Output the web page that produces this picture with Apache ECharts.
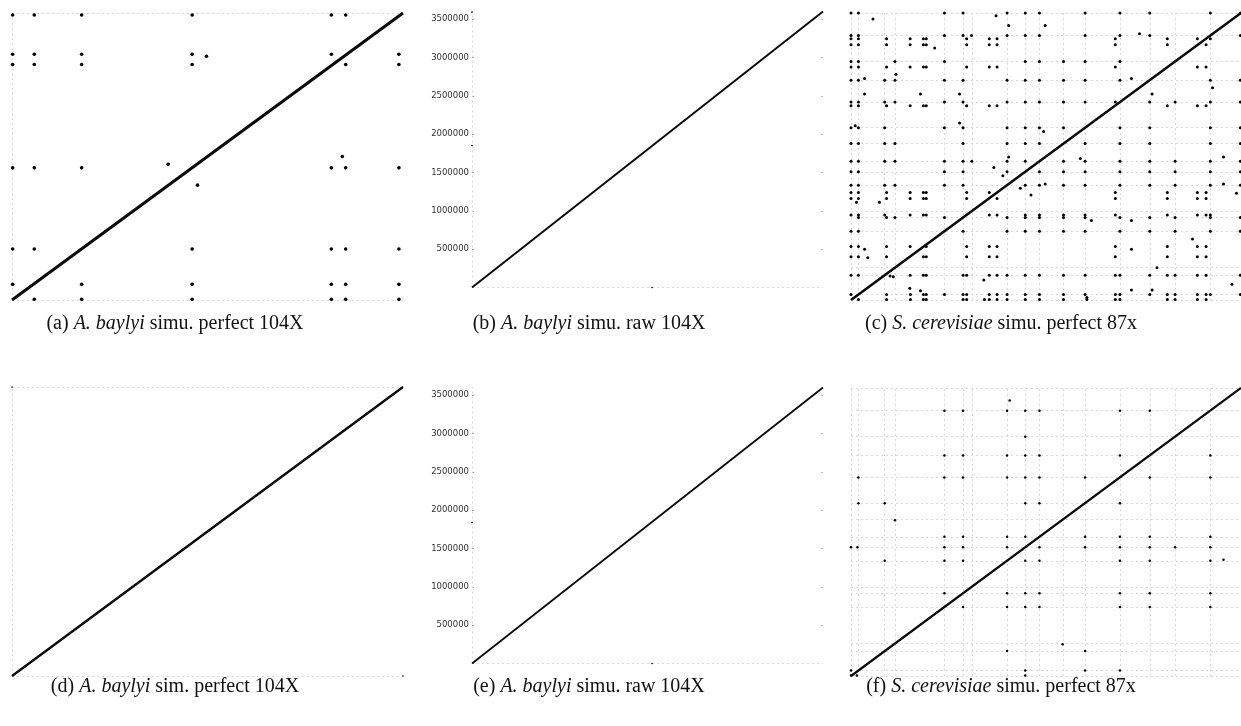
<!DOCTYPE html>
<html><head><meta charset="utf-8">
<script src="https://cdn.jsdelivr.net/npm/echarts@6/dist/echarts.min.js"></script>
<style>html,body{margin:0;padding:0;background:#fff}#c{width:1241px;height:726px}</style>
</head><body><div id="c"></div>
<script>
// ---------- A. baylyi (bp) ----------
const abLen = 3598621;
const abYTicks = [500000, 1000000, 1500000, 2000000, 2500000, 3000000, 3500000];
// panel (a): rows of repeat hits [y, [x...]]
const aRows = [
  [3574000, [6000, 205000, 641000, 1658000, 2939000, 3071000]],
  [3081000, [6000, 205000, 641000, 1658000, 2939000, 3561000]],
  [2952000, [6000, 205000, 641000, 1658000, 3071000, 3561000]],
  [1657000, [6000, 205000, 641000, 2939000, 3071000, 3561000]],
  [639000,  [6000, 205000, 1658000, 2939000, 3071000, 3561000]],
  [196000,  [6000, 641000, 1658000, 2939000, 3071000, 3561000]],
  [8000,    [205000, 641000, 1658000, 2939000, 3071000, 3561000]]
];
const aStray = [[1790000, 3056000], [1437000, 1703000], [1707000, 1440000], [3040000, 1800000]];
const bStray = [[0, 1851000], [1845000, 0], [0, 3590000]];
const dStray = [[0, 3598000], [3598000, 0]];
const eStray = [[0, 1839000], [1845000, 0]];

// ---------- S. cerevisiae (Mb) ----------
const scLen = 12.071;
const scBounds = [0.230, 1.043, 1.360, 2.892, 3.469, 3.739, 4.830, 5.393, 5.833, 6.578, 7.245, 8.323, 9.247, 10.031, 11.122];
const cRows = [
  [12.07, [0, 0.23, 2.892, 3.469, 4.83, 5.393, 5.833, 7.245, 8.323, 9.247, 11.122, 12.05]],
  [11.122, [0, 0.23, 2.892, 3.469, 4.83, 5.393, 5.833, 7.245, 8.323, 9.247, 12.05]],
  [10.99, [0, 0.23, 1.10, 1.83, 2.24, 2.33, 3.58, 4.28, 4.52, 8.18, 9.79, 10.72, 11.122]],
  [10.74, [0, 0.23, 1.10, 1.83, 2.24, 2.33, 3.58, 4.28, 4.52, 8.18, 9.79, 10.99]],
  [10.031, [0, 0.23, 1.36, 2.892, 5.393, 5.833, 6.578, 7.245, 8.323]],
  [9.80, [0, 0.23, 1.10, 1.83, 2.24, 2.33, 3.58, 4.28, 4.52, 8.18, 10.72, 10.99]],
  [9.247, [0, 0.23, 1.043, 1.36, 2.892, 3.469, 4.83, 5.393, 5.833, 6.578, 7.245, 8.323, 11.122, 12.05]],
  [8.323, [0, 0.23, 1.043, 1.36, 2.892, 3.469, 4.83, 5.393, 5.833, 6.578, 7.245, 8.18, 9.247, 10.031, 11.122, 12.05]],
  [8.17, [0, 0.23, 1.10, 1.83, 2.24, 2.33, 3.58, 4.28, 4.52, 9.79, 10.72, 10.99]],
  [7.245, [0, 0.23, 1.043, 2.892, 3.469, 4.83, 5.393, 5.833, 6.578, 8.323, 9.247, 11.122, 12.05]],
  [6.578, [0, 0.23, 1.043, 1.36, 3.469, 4.83, 5.393, 5.833, 7.245, 8.323, 9.247, 11.122, 12.05]],
  [5.833, [0, 0.23, 1.043, 1.36, 2.892, 3.469, 3.739, 4.83, 5.393, 6.578, 7.245, 8.323, 9.247, 10.031, 11.122, 12.05]],
  [5.393, [0, 0.23, 2.892, 3.469, 4.83, 5.833, 6.578, 7.245, 8.323, 9.247, 10.031, 11.122, 12.05]],
  [4.83, [0, 0.23, 1.043, 1.36, 2.892, 3.469, 5.393, 5.833, 6.578, 7.245, 8.323, 9.247, 10.031, 11.122, 12.05]],
  [4.52, [0, 0.23, 1.10, 1.83, 2.24, 2.33, 3.58, 4.28, 8.18, 9.79, 10.72, 10.99]],
  [4.27, [0, 0.23, 1.10, 1.83, 2.24, 2.33, 3.58, 4.52, 8.18, 9.79, 10.72, 10.99]],
  [3.57, [0, 0.23, 1.043, 1.83, 2.24, 2.33, 4.28, 4.52, 5.393, 5.833, 6.578, 7.245, 8.18, 9.79, 10.72, 10.99, 11.122]],
  [3.469, [0.23, 1.10, 1.36, 2.892, 4.83, 5.393, 5.833, 6.578, 7.245, 8.323, 9.247, 10.031, 11.122, 12.05]],
  [2.892, [0, 0.23, 3.469, 4.83, 5.393, 5.833, 6.578, 7.245, 8.323, 9.247, 10.031, 11.122, 12.05]],
  [2.25, [0, 0.23, 1.10, 1.83, 2.33, 3.58, 4.28, 4.52, 8.18, 9.79, 10.72, 10.99]],
  [1.82, [0, 0.23, 1.10, 2.24, 2.33, 3.58, 4.28, 4.52, 8.18, 9.79, 10.72, 10.99]],
  [1.043, [0, 0.23, 1.83, 2.24, 2.33, 3.469, 3.58, 4.28, 4.52, 4.83, 5.393, 5.833, 6.578, 7.245, 8.18, 8.323, 9.247, 9.79, 10.031, 10.72, 10.99, 12.05]],
  [0.23, [0, 1.10, 1.84, 2.24, 2.33, 2.892, 3.469, 3.58, 4.28, 4.52, 4.83, 5.393, 5.833, 6.578, 7.245, 8.18, 8.323, 9.247, 9.79, 10.031, 10.72, 10.99, 11.122, 12.05]],
  [0.02, [0.23, 1.10, 1.84, 2.24, 2.33, 3.469, 3.58, 4.13, 4.28, 4.52, 4.83, 5.393, 5.833, 6.578, 7.30, 8.18, 8.323, 9.79, 10.031, 10.72, 10.99]]
];
const cStray = [
  [0.68, 11.82], [4.49, 11.96], [4.88, 11.55], [6.01, 11.55], [3.73, 11.12], [8.93, 11.20],
  [2.59, 10.60], [1.39, 9.49], [0.42, 9.32], [8.68, 9.32], [11.19, 8.93], [0.42, 8.66],
  [2.15, 8.66], [3.36, 8.66], [9.32, 8.66], [0.13, 7.33], [3.36, 7.44], [5.96, 7.09],
  [4.88, 6.01], [7.10, 5.95], [11.53, 6.01], [4.42, 5.57], [4.70, 5.23], [5.24, 4.70],
  [6.01, 4.88], [11.53, 4.88], [0.17, 4.11], [0.88, 4.11], [5.57, 4.42], [11.93, 4.49],
  [7.44, 3.34], [8.68, 3.34], [10.57, 2.57], [0.42, 2.13], [8.68, 2.13], [0.52, 1.78],
  [1.21, 1.01], [1.31, 0.98], [4.11, 0.84], [9.47, 1.36], [11.79, 0.66], [1.82, 0.49],
  [2.15, 0.39], [8.68, 0.42], [9.32, 0.42], [7.30, 0.10]
];
const fRows = [
  [11.122, [2.892, 3.469, 4.83, 5.393, 5.833, 8.323, 9.247]],
  [10.031, [5.393]],
  [9.247, [2.892, 3.469, 4.83, 5.393, 5.833, 8.323, 11.122]],
  [8.323, [0.23, 2.892, 3.469, 4.83, 5.393, 5.833, 7.245, 9.247, 11.122]],
  [7.245, [0.23, 1.043, 5.393, 5.833, 8.323]],
  [5.833, [2.892, 3.469, 4.83, 5.393, 7.245, 8.323, 9.247, 11.122]],
  [5.393, [0, 0.20, 2.892, 3.469, 4.83, 5.833, 7.245, 8.323, 9.247, 10.031, 11.122]],
  [4.83, [1.043, 2.892, 3.469, 5.393, 5.833, 8.323, 9.247, 11.122]],
  [3.469, [2.892, 4.83, 5.393, 5.833, 8.323, 9.247, 11.122]],
  [2.892, [3.469, 4.83, 5.393, 5.833, 8.323, 9.247, 11.122]],
  [1.043, [4.83, 7.245]],
  [0.23, [0, 5.393, 7.245, 8.323]],
  [0.02, [0, 0.18, 5.393]]
];
const fStray = [[4.91, 11.55], [1.36, 6.53], [11.53, 4.87], [6.55, 1.33]];

// ---------- captions ----------
const captions = [
  ['(a) ', 'A. baylyi', ' simu. perfect 104X'],
  ['(b) ', 'A. baylyi', ' simu. raw 104X'],
  ['(c) ', 'S. cerevisiae', ' simu. perfect 87x'],
  ['(d) ', 'A. baylyi', ' sim. perfect 104X'],
  ['(e) ', 'A. baylyi', ' simu. raw 104X'],
  ['(f) ', 'S. cerevisiae', ' simu. perfect 87x']
];

// ---------- build ----------
function expand(rows, stray) {
  const out = [];
  rows.forEach(r => r[1].forEach(x => out.push([x, r[0]])));
  return out.concat(stray);
}
const panels = [
  {grid: {left: 12, top: 13, width: 391, height: 287}, L: abLen, dots: expand(aRows, aStray), ds: 3.6, lw: 3, gx: [0], gy: [0, abLen], ylab: false},
  {grid: {left: 472, top: 11.5, width: 351, height: 276}, L: abLen, dots: bStray, ds: 1.6, lw: 2, gx: [0], gy: [0], ylab: true},
  {grid: {left: 851, top: 13, width: 390, height: 287}, L: scLen, dots: expand(cRows, cStray), ds: 3, lw: 2.6, gx: [0].concat(scBounds), gy: [0].concat(scBounds, [scLen]), ylab: false},
  {grid: {left: 12, top: 387, width: 391, height: 289}, L: abLen, dots: dStray, ds: 1.6, lw: 2.4, gx: [0], gy: [0, abLen], ylab: false},
  {grid: {left: 472, top: 387.5, width: 351, height: 276}, L: abLen, dots: eStray, ds: 1.6, lw: 1.8, gx: [0], gy: [0], ylab: true},
  {grid: {left: 851, top: 388, width: 390, height: 288}, L: scLen, dots: expand(fRows, fStray), ds: 2.5, lw: 2.2, gx: [0].concat(scBounds), gy: [0].concat(scBounds, [scLen]), ylab: false}
];
const capPos = [[175, 324], [589, 324], [1001, 324], [175, 687], [589, 687], [1001, 687]];

const grids = [], xAxes = [], yAxes = [], series = [];
const gridLine = {color: '#d9d9d9', type: [2, 3], width: 1};
panels.forEach((p, i) => {
  grids.push(Object.assign({containLabel: false}, p.grid));
  xAxes.push({gridIndex: i, type: 'value', min: 0, max: p.L,
    axisLine: {show: false}, axisTick: {show: false}, axisLabel: {show: false}, splitLine: {show: false}});
  const yi = yAxes.length;
  yAxes.push({gridIndex: i, type: 'value', min: 0, max: p.L,
    axisLine: {show: false}, splitLine: {show: false},
    axisTick: p.ylab ? {show: true, inside: true, length: 2, customValues: abYTicks, lineStyle: {color: '#999'}} : {show: false},
    axisLabel: p.ylab ? {show: true, customValues: abYTicks, margin: 3, color: '#333', fontFamily: 'DejaVu Sans', fontSize: 8.5,
      formatter: v => String(v)} : {show: false}});
  if (p.ylab) {
    yAxes.push({gridIndex: i, type: 'value', min: 0, max: p.L, position: 'right',
      axisLine: {show: false}, splitLine: {show: false}, axisLabel: {show: false},
      axisTick: {show: true, inside: true, length: 2, customValues: abYTicks, lineStyle: {color: '#bbb'}}});
  }
  series.push({type: 'scatter', xAxisIndex: i, yAxisIndex: yi, data: [], z: 1, silent: true,
    markLine: {z: 1, silent: true, symbol: ['none', 'none'], label: {show: false}, animation: false,
      lineStyle: gridLine, emphasis: {disabled: true},
      data: p.gx.map(v => ({xAxis: v})).concat(p.gy.map(v => ({yAxis: v})))}});
  series.push({type: 'line', xAxisIndex: i, yAxisIndex: yi, data: [[0, 0], [p.L, p.L]], z: 3,
    showSymbol: false, silent: true, lineStyle: {color: '#0a0a0a', width: p.lw}});
  series.push({type: 'scatter', xAxisIndex: i, yAxisIndex: yi, data: p.dots, z: 4, silent: true,
    symbol: 'circle', symbolSize: p.ds, itemStyle: {color: '#000', opacity: 1}});
});

const graphics = captions.map((c, i) => ({
  type: 'text', x: capPos[i][0], y: capPos[i][1],
  style: {
    text: '{n|' + c[0] + '}{i|' + c[1] + '}{n|' + c[2] + '}',
    align: 'center', verticalAlign: 'middle',
    rich: {
      n: {fontFamily: 'Liberation Serif', fontSize: 20, fill: '#111', fontStyle: 'normal'},
      i: {fontFamily: 'Liberation Serif', fontSize: 20, fill: '#111', fontStyle: 'italic'}
    }
  }
}));

const chart = echarts.init(document.getElementById('c'), null, {renderer: 'canvas'});
chart.setOption({
  backgroundColor: '#fff', animation: false,
  grid: grids, xAxis: xAxes, yAxis: yAxes, series: series, graphic: graphics
});
</script></body></html>
